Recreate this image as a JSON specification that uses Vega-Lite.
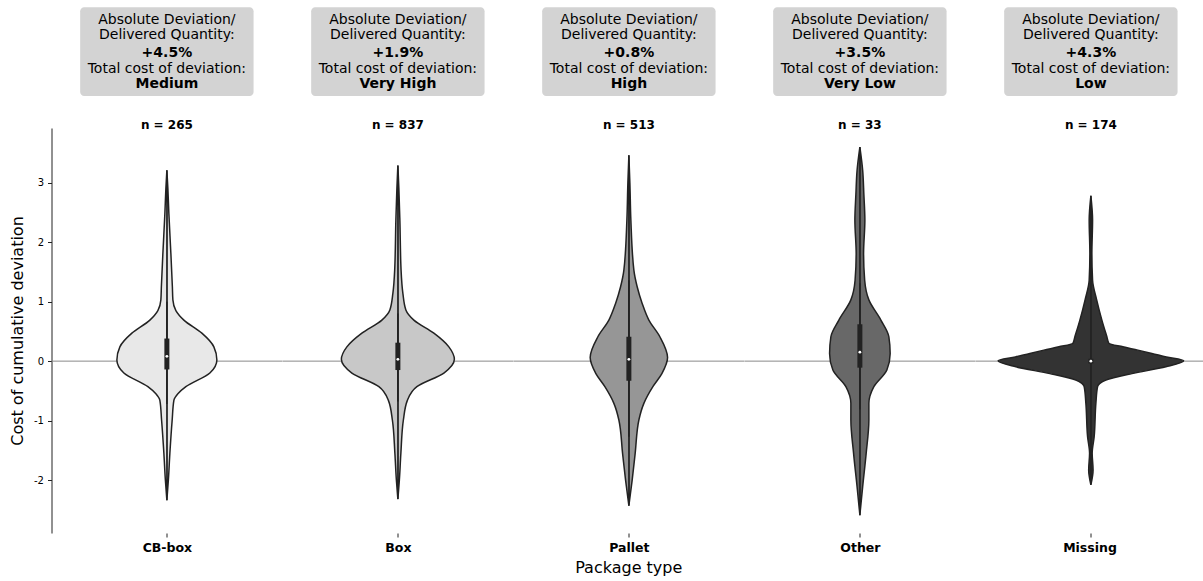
{
  "$schema": "https://vega.github.io/schema/vega-lite/v6.json",
  "padding": {"left": 9.5, "top": 7, "right": 0, "bottom": 0},
  "bounds": "flush",
  "spacing": 0,
  "config": {"font": "DejaVu Sans", "view": {"stroke": null}, "axis": {"grid": false}},
  "title": {"text": "Package type", "orient": "bottom", "anchor": "middle", "frame": "bounds", "dx": 22, "fontSize": 16, "fontWeight": "normal", "color": "#000000", "offset": 6},
  "data": {"values": [
    {"k":"s","cat":"CB-box","lo":-0.72,"q1":-0.14,"med":0.08,"q3":0.38,"hi":1.0,"nlab":"n = 265","dev":"+4.5%","cost":"Medium"},
    {"k":"s","cat":"Box","lo":-0.68,"q1":-0.15,"med":0.03,"q3":0.31,"hi":0.8,"nlab":"n = 837","dev":"+1.9%","cost":"Very High"},
    {"k":"s","cat":"Pallet","lo":-1.27,"q1":-0.33,"med":0.03,"q3":0.41,"hi":1.36,"nlab":"n = 513","dev":"+0.8%","cost":"High"},
    {"k":"s","cat":"Other","lo":-0.81,"q1":-0.11,"med":0.15,"q3":0.62,"hi":1.31,"nlab":"n = 33","dev":"+3.5%","cost":"Very Low"},
    {"k":"s","cat":"Missing","lo":-0.05,"q1":-0.04,"med":0.0,"q3":0.04,"hi":0.05,"nlab":"n = 174","dev":"+4.3%","cost":"Low"},

    {"k":"v","cat":"CB-box","y":-2.34,"d":0},
    {"k":"v","cat":"CB-box","y":-2.0,"d":0.015},
    {"k":"v","cat":"CB-box","y":-1.55,"d":0.03},
    {"k":"v","cat":"CB-box","y":-0.99,"d":0.053},
    {"k":"v","cat":"CB-box","y":-0.66,"d":0.07},
    {"k":"v","cat":"CB-box","y":-0.55,"d":0.11},
    {"k":"v","cat":"CB-box","y":-0.43,"d":0.19},
    {"k":"v","cat":"CB-box","y":-0.2,"d":0.43},
    {"k":"v","cat":"CB-box","y":0.02,"d":0.5},
    {"k":"v","cat":"CB-box","y":0.24,"d":0.47},
    {"k":"v","cat":"CB-box","y":0.47,"d":0.35},
    {"k":"v","cat":"CB-box","y":0.69,"d":0.17},
    {"k":"v","cat":"CB-box","y":0.85,"d":0.09},
    {"k":"v","cat":"CB-box","y":1.03,"d":0.06},
    {"k":"v","cat":"CB-box","y":1.25,"d":0.055},
    {"k":"v","cat":"CB-box","y":1.81,"d":0.04},
    {"k":"v","cat":"CB-box","y":2.48,"d":0.02},
    {"k":"v","cat":"CB-box","y":2.9,"d":0.01},
    {"k":"v","cat":"CB-box","y":3.21,"d":0},

    {"k":"v","cat":"Box","y":-2.32,"d":0},
    {"k":"v","cat":"Box","y":-2.0,"d":0.015},
    {"k":"v","cat":"Box","y":-1.55,"d":0.03},
    {"k":"v","cat":"Box","y":-0.99,"d":0.055},
    {"k":"v","cat":"Box","y":-0.66,"d":0.095},
    {"k":"v","cat":"Box","y":-0.43,"d":0.19},
    {"k":"v","cat":"Box","y":-0.2,"d":0.46},
    {"k":"v","cat":"Box","y":0.03,"d":0.565},
    {"k":"v","cat":"Box","y":0.24,"d":0.51},
    {"k":"v","cat":"Box","y":0.47,"d":0.36},
    {"k":"v","cat":"Box","y":0.69,"d":0.16},
    {"k":"v","cat":"Box","y":0.86,"d":0.08},
    {"k":"v","cat":"Box","y":1.14,"d":0.05},
    {"k":"v","cat":"Box","y":1.53,"d":0.032},
    {"k":"v","cat":"Box","y":2.37,"d":0.02},
    {"k":"v","cat":"Box","y":2.9,"d":0.01},
    {"k":"v","cat":"Box","y":3.29,"d":0},

    {"k":"v","cat":"Pallet","y":-2.43,"d":0},
    {"k":"v","cat":"Pallet","y":-2.0,"d":0.033},
    {"k":"v","cat":"Pallet","y":-1.55,"d":0.063},
    {"k":"v","cat":"Pallet","y":-0.99,"d":0.1},
    {"k":"v","cat":"Pallet","y":-0.71,"d":0.15},
    {"k":"v","cat":"Pallet","y":-0.43,"d":0.24},
    {"k":"v","cat":"Pallet","y":-0.21,"d":0.33},
    {"k":"v","cat":"Pallet","y":0.06,"d":0.387},
    {"k":"v","cat":"Pallet","y":0.41,"d":0.31},
    {"k":"v","cat":"Pallet","y":0.69,"d":0.2},
    {"k":"v","cat":"Pallet","y":0.97,"d":0.133},
    {"k":"v","cat":"Pallet","y":1.25,"d":0.083},
    {"k":"v","cat":"Pallet","y":1.53,"d":0.05},
    {"k":"v","cat":"Pallet","y":2.37,"d":0.02},
    {"k":"v","cat":"Pallet","y":3.0,"d":0.01},
    {"k":"v","cat":"Pallet","y":3.46,"d":0},

    {"k":"v","cat":"Other","y":-2.59,"d":0},
    {"k":"v","cat":"Other","y":-2.11,"d":0.028},
    {"k":"v","cat":"Other","y":-1.55,"d":0.063},
    {"k":"v","cat":"Other","y":-0.99,"d":0.09},
    {"k":"v","cat":"Other","y":-0.71,"d":0.09},
    {"k":"v","cat":"Other","y":-0.43,"d":0.14},
    {"k":"v","cat":"Other","y":-0.15,"d":0.27},
    {"k":"v","cat":"Other","y":0.13,"d":0.303},
    {"k":"v","cat":"Other","y":0.41,"d":0.29},
    {"k":"v","cat":"Other","y":0.69,"d":0.21},
    {"k":"v","cat":"Other","y":1.03,"d":0.09},
    {"k":"v","cat":"Other","y":1.36,"d":0.048},
    {"k":"v","cat":"Other","y":1.81,"d":0.037},
    {"k":"v","cat":"Other","y":2.37,"d":0.05},
    {"k":"v","cat":"Other","y":2.8,"d":0.04},
    {"k":"v","cat":"Other","y":3.21,"d":0.028},
    {"k":"v","cat":"Other","y":3.6,"d":0},

    {"k":"v","cat":"Missing","y":-2.08,"d":0},
    {"k":"v","cat":"Missing","y":-1.83,"d":0.022},
    {"k":"v","cat":"Missing","y":-1.55,"d":0.013},
    {"k":"v","cat":"Missing","y":-1.27,"d":0.033},
    {"k":"v","cat":"Missing","y":-0.71,"d":0.05},
    {"k":"v","cat":"Missing","y":-0.43,"d":0.067},
    {"k":"v","cat":"Missing","y":-0.375,"d":0.09},
    {"k":"v","cat":"Missing","y":-0.32,"d":0.15},
    {"k":"v","cat":"Missing","y":-0.21,"d":0.41},
    {"k":"v","cat":"Missing","y":-0.096,"d":0.75},
    {"k":"v","cat":"Missing","y":0.005,"d":0.928},
    {"k":"v","cat":"Missing","y":0.07,"d":0.755},
    {"k":"v","cat":"Missing","y":0.13,"d":0.61},
    {"k":"v","cat":"Missing","y":0.185,"d":0.47},
    {"k":"v","cat":"Missing","y":0.24,"d":0.32},
    {"k":"v","cat":"Missing","y":0.3,"d":0.18},
    {"k":"v","cat":"Missing","y":0.41,"d":0.16},
    {"k":"v","cat":"Missing","y":0.69,"d":0.11},
    {"k":"v","cat":"Missing","y":1.03,"d":0.058},
    {"k":"v","cat":"Missing","y":1.36,"d":0.017},
    {"k":"v","cat":"Missing","y":1.81,"d":0.01},
    {"k":"v","cat":"Missing","y":2.37,"d":0.017},
    {"k":"v","cat":"Missing","y":2.78,"d":0}
  ]},
  "hconcat": [
    {
      "width": 230.75, "height": 405,
      "transform": [{"filter": "datum.cat == 'CB-box'"}],
      "resolve": {"scale": {"x": "independent"}},
      "layer": [
        {"transform": [{"filter": "datum.k == 's'"}], "mark": {"type": "rule", "color": "#8a8a8a", "strokeWidth": 1}, "encoding": {"y": {"datum": 0, "type": "quantitative", "scale": {"domain": [-2.89, 3.92], "nice": false, "zero": false}}}},
        {"transform": [{"filter": "datum.k == 'v'"}], "mark": {"type": "area", "orient": "horizontal", "interpolate": "monotone", "stroke": "#222222", "strokeWidth": 1.5},
         "encoding": {
           "y": {"field": "y", "type": "quantitative", "scale": {"domain": [-2.89, 3.92], "nice": false, "zero": false},
                 "axis": {"values": [-2, -1, 0, 1, 2, 3], "labelExpr": "'' + datum.value", "title": "Cost of cumulative deviation", "titleFontSize": 16, "titleFontWeight": "normal", "titleColor": "#000000", "titlePadding": 8, "labelFontSize": 10, "labelColor": "#000000", "labelPadding": 4, "tickSize": 4, "tickColor": "#222222", "domainColor": "#222222", "grid": false}},
           "x": {"field": "d", "type": "quantitative", "scale": {"domain": [-1.15375, 1.15375], "nice": false, "zero": false},
                 "axis": {"values": [0], "labels": false, "domain": false, "ticks": true, "tickSize": 4, "tickColor": "#222222", "grid": false, "title": "CB-box", "titleFontSize": 12.5, "titleFontWeight": "bold", "titleColor": "#000000", "titlePadding": 4}},
           "color": {"field": "cat", "type": "nominal", "scale": {"domain": ["CB-box", "Box", "Pallet", "Other", "Missing"], "range": ["#e8e8e8", "#c8c8c8", "#969696", "#686868", "#333333"]}, "legend": null}}},
        {"transform": [{"filter": "datum.k == 'v'"}], "mark": {"type": "area", "orient": "horizontal", "interpolate": "monotone", "stroke": "#222222", "strokeWidth": 1.5},
         "encoding": {"y": {"field": "y", "type": "quantitative"}, "x": {"field": "d", "type": "quantitative", "scale": {"domain": [-1.15375, 1.15375], "nice": false, "zero": false, "reverse": true}, "axis": null}, "color": {"field": "cat", "type": "nominal", "legend": null}}},
        {"transform": [{"filter": "datum.k == 's'"}], "mark": {"type": "rule", "color": "#222222", "strokeWidth": 1.6}, "encoding": {"x": {"datum": 0, "type": "quantitative", "scale": {"domain": [-1.15375, 1.15375], "nice": false}, "axis": null}, "y": {"field": "lo", "type": "quantitative"}, "y2": {"field": "hi"}}},
        {"transform": [{"filter": "datum.k == 's'"}], "mark": {"type": "rule", "color": "#222222", "strokeWidth": 5, "strokeCap": "butt"}, "encoding": {"x": {"datum": 0, "type": "quantitative", "scale": {"domain": [-1.15375, 1.15375], "nice": false}, "axis": null}, "y": {"field": "q1", "type": "quantitative"}, "y2": {"field": "q3"}}},
        {"transform": [{"filter": "datum.k == 's'"}], "mark": {"type": "point", "shape": "circle", "filled": true, "color": "#ffffff", "size": 8, "opacity": 1}, "encoding": {"x": {"datum": 0, "type": "quantitative", "scale": {"domain": [-1.15375, 1.15375], "nice": false}, "axis": null}, "y": {"field": "med", "type": "quantitative"}}},
        {"transform": [{"filter": "datum.k == 's'"}], "mark": {"type": "rect", "fill": "#d3d3d3", "cornerRadius": 4}, "encoding": {"x": {"datum": -0.867, "type": "quantitative", "scale": {"domain": [-1.15375, 1.15375], "nice": false}, "axis": null}, "x2": {"datum": 0.867}, "y": {"datum": 5.95, "type": "quantitative"}, "y2": {"datum": 4.457}}},
        {"transform": [{"filter": "datum.k == 's'"}], "mark": {"type": "text", "fontSize": 14, "color": "#000000"}, "encoding": {"x": {"datum": 0, "type": "quantitative", "scale": {"domain": [-1.15375, 1.15375], "nice": false}, "axis": null}, "y": {"datum": 5.735, "type": "quantitative"}, "text": {"value": "Absolute Deviation/"}}},
        {"transform": [{"filter": "datum.k == 's'"}], "mark": {"type": "text", "fontSize": 14, "color": "#000000"}, "encoding": {"x": {"datum": 0, "type": "quantitative", "scale": {"domain": [-1.15375, 1.15375], "nice": false}, "axis": null}, "y": {"datum": 5.49, "type": "quantitative"}, "text": {"value": "Delivered Quantity:"}}},
        {"transform": [{"filter": "datum.k == 's'"}], "mark": {"type": "text", "fontSize": 14, "fontWeight": "bold", "color": "#000000"}, "encoding": {"x": {"datum": 0, "type": "quantitative", "scale": {"domain": [-1.15375, 1.15375], "nice": false}, "axis": null}, "y": {"datum": 5.18, "type": "quantitative"}, "text": {"field": "dev"}}},
        {"transform": [{"filter": "datum.k == 's'"}], "mark": {"type": "text", "fontSize": 14, "color": "#000000"}, "encoding": {"x": {"datum": 0, "type": "quantitative", "scale": {"domain": [-1.15375, 1.15375], "nice": false}, "axis": null}, "y": {"datum": 4.91, "type": "quantitative"}, "text": {"value": "Total cost of deviation:"}}},
        {"transform": [{"filter": "datum.k == 's'"}], "mark": {"type": "text", "fontSize": 14, "fontWeight": "bold", "color": "#000000"}, "encoding": {"x": {"datum": 0, "type": "quantitative", "scale": {"domain": [-1.15375, 1.15375], "nice": false}, "axis": null}, "y": {"datum": 4.665, "type": "quantitative"}, "text": {"field": "cost"}}},
        {"transform": [{"filter": "datum.k == 's'"}], "mark": {"type": "text", "fontSize": 12, "fontWeight": "bold", "color": "#000000"}, "encoding": {"x": {"datum": 0, "type": "quantitative", "scale": {"domain": [-1.15375, 1.15375], "nice": false}, "axis": null}, "y": {"datum": 3.97, "type": "quantitative"}, "text": {"field": "nlab"}}}
      ]
    },
    {
      "width": 230.75, "height": 405,
      "transform": [{"filter": "datum.cat == 'Box'"}],
      "resolve": {"scale": {"x": "independent"}},
      "layer": [
        {"transform": [{"filter": "datum.k == 's'"}], "mark": {"type": "rule", "color": "#8a8a8a", "strokeWidth": 1}, "encoding": {"y": {"datum": 0, "type": "quantitative", "scale": {"domain": [-2.89, 3.92], "nice": false, "zero": false}, "axis": null}}},
        {"transform": [{"filter": "datum.k == 'v'"}], "mark": {"type": "area", "orient": "horizontal", "interpolate": "monotone", "stroke": "#222222", "strokeWidth": 1.5},
         "encoding": {
           "y": {"field": "y", "type": "quantitative", "scale": {"domain": [-2.89, 3.92], "nice": false, "zero": false}, "axis": null},
           "x": {"field": "d", "type": "quantitative", "scale": {"domain": [-1.15375, 1.15375], "nice": false, "zero": false},
                 "axis": {"values": [0], "labels": false, "domain": false, "ticks": true, "tickSize": 4, "tickColor": "#222222", "grid": false, "title": "Box", "titleFontSize": 12.5, "titleFontWeight": "bold", "titleColor": "#000000", "titlePadding": 4}},
           "color": {"field": "cat", "type": "nominal", "scale": {"domain": ["CB-box", "Box", "Pallet", "Other", "Missing"], "range": ["#e8e8e8", "#c8c8c8", "#969696", "#686868", "#333333"]}, "legend": null}}},
        {"transform": [{"filter": "datum.k == 'v'"}], "mark": {"type": "area", "orient": "horizontal", "interpolate": "monotone", "stroke": "#222222", "strokeWidth": 1.5},
         "encoding": {"y": {"field": "y", "type": "quantitative", "axis": null}, "x": {"field": "d", "type": "quantitative", "scale": {"domain": [-1.15375, 1.15375], "nice": false, "zero": false, "reverse": true}, "axis": null}, "color": {"field": "cat", "type": "nominal", "legend": null}}},
        {"transform": [{"filter": "datum.k == 's'"}], "mark": {"type": "rule", "color": "#222222", "strokeWidth": 1.6}, "encoding": {"x": {"datum": 0, "type": "quantitative", "scale": {"domain": [-1.15375, 1.15375], "nice": false}, "axis": null}, "y": {"field": "lo", "type": "quantitative", "axis": null}, "y2": {"field": "hi"}}},
        {"transform": [{"filter": "datum.k == 's'"}], "mark": {"type": "rule", "color": "#222222", "strokeWidth": 5, "strokeCap": "butt"}, "encoding": {"x": {"datum": 0, "type": "quantitative", "scale": {"domain": [-1.15375, 1.15375], "nice": false}, "axis": null}, "y": {"field": "q1", "type": "quantitative", "axis": null}, "y2": {"field": "q3"}}},
        {"transform": [{"filter": "datum.k == 's'"}], "mark": {"type": "point", "shape": "circle", "filled": true, "color": "#ffffff", "size": 8, "opacity": 1}, "encoding": {"x": {"datum": 0, "type": "quantitative", "scale": {"domain": [-1.15375, 1.15375], "nice": false}, "axis": null}, "y": {"field": "med", "type": "quantitative", "axis": null}}},
        {"transform": [{"filter": "datum.k == 's'"}], "mark": {"type": "rect", "fill": "#d3d3d3", "cornerRadius": 4}, "encoding": {"x": {"datum": -0.867, "type": "quantitative", "scale": {"domain": [-1.15375, 1.15375], "nice": false}, "axis": null}, "x2": {"datum": 0.867}, "y": {"datum": 5.95, "type": "quantitative", "axis": null}, "y2": {"datum": 4.457}}},
        {"transform": [{"filter": "datum.k == 's'"}], "mark": {"type": "text", "fontSize": 14, "color": "#000000"}, "encoding": {"x": {"datum": 0, "type": "quantitative", "scale": {"domain": [-1.15375, 1.15375], "nice": false}, "axis": null}, "y": {"datum": 5.735, "type": "quantitative", "axis": null}, "text": {"value": "Absolute Deviation/"}}},
        {"transform": [{"filter": "datum.k == 's'"}], "mark": {"type": "text", "fontSize": 14, "color": "#000000"}, "encoding": {"x": {"datum": 0, "type": "quantitative", "scale": {"domain": [-1.15375, 1.15375], "nice": false}, "axis": null}, "y": {"datum": 5.49, "type": "quantitative", "axis": null}, "text": {"value": "Delivered Quantity:"}}},
        {"transform": [{"filter": "datum.k == 's'"}], "mark": {"type": "text", "fontSize": 14, "fontWeight": "bold", "color": "#000000"}, "encoding": {"x": {"datum": 0, "type": "quantitative", "scale": {"domain": [-1.15375, 1.15375], "nice": false}, "axis": null}, "y": {"datum": 5.18, "type": "quantitative", "axis": null}, "text": {"field": "dev"}}},
        {"transform": [{"filter": "datum.k == 's'"}], "mark": {"type": "text", "fontSize": 14, "color": "#000000"}, "encoding": {"x": {"datum": 0, "type": "quantitative", "scale": {"domain": [-1.15375, 1.15375], "nice": false}, "axis": null}, "y": {"datum": 4.91, "type": "quantitative", "axis": null}, "text": {"value": "Total cost of deviation:"}}},
        {"transform": [{"filter": "datum.k == 's'"}], "mark": {"type": "text", "fontSize": 14, "fontWeight": "bold", "color": "#000000"}, "encoding": {"x": {"datum": 0, "type": "quantitative", "scale": {"domain": [-1.15375, 1.15375], "nice": false}, "axis": null}, "y": {"datum": 4.665, "type": "quantitative", "axis": null}, "text": {"field": "cost"}}},
        {"transform": [{"filter": "datum.k == 's'"}], "mark": {"type": "text", "fontSize": 12, "fontWeight": "bold", "color": "#000000"}, "encoding": {"x": {"datum": 0, "type": "quantitative", "scale": {"domain": [-1.15375, 1.15375], "nice": false}, "axis": null}, "y": {"datum": 3.97, "type": "quantitative", "axis": null}, "text": {"field": "nlab"}}}
      ]
    },
    {
      "width": 230.75, "height": 405,
      "transform": [{"filter": "datum.cat == 'Pallet'"}],
      "resolve": {"scale": {"x": "independent"}},
      "layer": [
        {"transform": [{"filter": "datum.k == 's'"}], "mark": {"type": "rule", "color": "#8a8a8a", "strokeWidth": 1}, "encoding": {"y": {"datum": 0, "type": "quantitative", "scale": {"domain": [-2.89, 3.92], "nice": false, "zero": false}, "axis": null}}},
        {"transform": [{"filter": "datum.k == 'v'"}], "mark": {"type": "area", "orient": "horizontal", "interpolate": "monotone", "stroke": "#222222", "strokeWidth": 1.5},
         "encoding": {
           "y": {"field": "y", "type": "quantitative", "scale": {"domain": [-2.89, 3.92], "nice": false, "zero": false}, "axis": null},
           "x": {"field": "d", "type": "quantitative", "scale": {"domain": [-1.15375, 1.15375], "nice": false, "zero": false},
                 "axis": {"values": [0], "labels": false, "domain": false, "ticks": true, "tickSize": 4, "tickColor": "#222222", "grid": false, "title": "Pallet", "titleFontSize": 12.5, "titleFontWeight": "bold", "titleColor": "#000000", "titlePadding": 4}},
           "color": {"field": "cat", "type": "nominal", "scale": {"domain": ["CB-box", "Box", "Pallet", "Other", "Missing"], "range": ["#e8e8e8", "#c8c8c8", "#969696", "#686868", "#333333"]}, "legend": null}}},
        {"transform": [{"filter": "datum.k == 'v'"}], "mark": {"type": "area", "orient": "horizontal", "interpolate": "monotone", "stroke": "#222222", "strokeWidth": 1.5},
         "encoding": {"y": {"field": "y", "type": "quantitative", "axis": null}, "x": {"field": "d", "type": "quantitative", "scale": {"domain": [-1.15375, 1.15375], "nice": false, "zero": false, "reverse": true}, "axis": null}, "color": {"field": "cat", "type": "nominal", "legend": null}}},
        {"transform": [{"filter": "datum.k == 's'"}], "mark": {"type": "rule", "color": "#222222", "strokeWidth": 1.6}, "encoding": {"x": {"datum": 0, "type": "quantitative", "scale": {"domain": [-1.15375, 1.15375], "nice": false}, "axis": null}, "y": {"field": "lo", "type": "quantitative", "axis": null}, "y2": {"field": "hi"}}},
        {"transform": [{"filter": "datum.k == 's'"}], "mark": {"type": "rule", "color": "#222222", "strokeWidth": 5, "strokeCap": "butt"}, "encoding": {"x": {"datum": 0, "type": "quantitative", "scale": {"domain": [-1.15375, 1.15375], "nice": false}, "axis": null}, "y": {"field": "q1", "type": "quantitative", "axis": null}, "y2": {"field": "q3"}}},
        {"transform": [{"filter": "datum.k == 's'"}], "mark": {"type": "point", "shape": "circle", "filled": true, "color": "#ffffff", "size": 8, "opacity": 1}, "encoding": {"x": {"datum": 0, "type": "quantitative", "scale": {"domain": [-1.15375, 1.15375], "nice": false}, "axis": null}, "y": {"field": "med", "type": "quantitative", "axis": null}}},
        {"transform": [{"filter": "datum.k == 's'"}], "mark": {"type": "rect", "fill": "#d3d3d3", "cornerRadius": 4}, "encoding": {"x": {"datum": -0.867, "type": "quantitative", "scale": {"domain": [-1.15375, 1.15375], "nice": false}, "axis": null}, "x2": {"datum": 0.867}, "y": {"datum": 5.95, "type": "quantitative", "axis": null}, "y2": {"datum": 4.457}}},
        {"transform": [{"filter": "datum.k == 's'"}], "mark": {"type": "text", "fontSize": 14, "color": "#000000"}, "encoding": {"x": {"datum": 0, "type": "quantitative", "scale": {"domain": [-1.15375, 1.15375], "nice": false}, "axis": null}, "y": {"datum": 5.735, "type": "quantitative", "axis": null}, "text": {"value": "Absolute Deviation/"}}},
        {"transform": [{"filter": "datum.k == 's'"}], "mark": {"type": "text", "fontSize": 14, "color": "#000000"}, "encoding": {"x": {"datum": 0, "type": "quantitative", "scale": {"domain": [-1.15375, 1.15375], "nice": false}, "axis": null}, "y": {"datum": 5.49, "type": "quantitative", "axis": null}, "text": {"value": "Delivered Quantity:"}}},
        {"transform": [{"filter": "datum.k == 's'"}], "mark": {"type": "text", "fontSize": 14, "fontWeight": "bold", "color": "#000000"}, "encoding": {"x": {"datum": 0, "type": "quantitative", "scale": {"domain": [-1.15375, 1.15375], "nice": false}, "axis": null}, "y": {"datum": 5.18, "type": "quantitative", "axis": null}, "text": {"field": "dev"}}},
        {"transform": [{"filter": "datum.k == 's'"}], "mark": {"type": "text", "fontSize": 14, "color": "#000000"}, "encoding": {"x": {"datum": 0, "type": "quantitative", "scale": {"domain": [-1.15375, 1.15375], "nice": false}, "axis": null}, "y": {"datum": 4.91, "type": "quantitative", "axis": null}, "text": {"value": "Total cost of deviation:"}}},
        {"transform": [{"filter": "datum.k == 's'"}], "mark": {"type": "text", "fontSize": 14, "fontWeight": "bold", "color": "#000000"}, "encoding": {"x": {"datum": 0, "type": "quantitative", "scale": {"domain": [-1.15375, 1.15375], "nice": false}, "axis": null}, "y": {"datum": 4.665, "type": "quantitative", "axis": null}, "text": {"field": "cost"}}},
        {"transform": [{"filter": "datum.k == 's'"}], "mark": {"type": "text", "fontSize": 12, "fontWeight": "bold", "color": "#000000"}, "encoding": {"x": {"datum": 0, "type": "quantitative", "scale": {"domain": [-1.15375, 1.15375], "nice": false}, "axis": null}, "y": {"datum": 3.97, "type": "quantitative", "axis": null}, "text": {"field": "nlab"}}}
      ]
    },
    {
      "width": 230.75, "height": 405,
      "transform": [{"filter": "datum.cat == 'Other'"}],
      "resolve": {"scale": {"x": "independent"}},
      "layer": [
        {"transform": [{"filter": "datum.k == 's'"}], "mark": {"type": "rule", "color": "#8a8a8a", "strokeWidth": 1}, "encoding": {"y": {"datum": 0, "type": "quantitative", "scale": {"domain": [-2.89, 3.92], "nice": false, "zero": false}, "axis": null}}},
        {"transform": [{"filter": "datum.k == 'v'"}], "mark": {"type": "area", "orient": "horizontal", "interpolate": "monotone", "stroke": "#222222", "strokeWidth": 1.5},
         "encoding": {
           "y": {"field": "y", "type": "quantitative", "scale": {"domain": [-2.89, 3.92], "nice": false, "zero": false}, "axis": null},
           "x": {"field": "d", "type": "quantitative", "scale": {"domain": [-1.15375, 1.15375], "nice": false, "zero": false},
                 "axis": {"values": [0], "labels": false, "domain": false, "ticks": true, "tickSize": 4, "tickColor": "#222222", "grid": false, "title": "Other", "titleFontSize": 12.5, "titleFontWeight": "bold", "titleColor": "#000000", "titlePadding": 4}},
           "color": {"field": "cat", "type": "nominal", "scale": {"domain": ["CB-box", "Box", "Pallet", "Other", "Missing"], "range": ["#e8e8e8", "#c8c8c8", "#969696", "#686868", "#333333"]}, "legend": null}}},
        {"transform": [{"filter": "datum.k == 'v'"}], "mark": {"type": "area", "orient": "horizontal", "interpolate": "monotone", "stroke": "#222222", "strokeWidth": 1.5},
         "encoding": {"y": {"field": "y", "type": "quantitative", "axis": null}, "x": {"field": "d", "type": "quantitative", "scale": {"domain": [-1.15375, 1.15375], "nice": false, "zero": false, "reverse": true}, "axis": null}, "color": {"field": "cat", "type": "nominal", "legend": null}}},
        {"transform": [{"filter": "datum.k == 's'"}], "mark": {"type": "rule", "color": "#222222", "strokeWidth": 1.6}, "encoding": {"x": {"datum": 0, "type": "quantitative", "scale": {"domain": [-1.15375, 1.15375], "nice": false}, "axis": null}, "y": {"field": "lo", "type": "quantitative", "axis": null}, "y2": {"field": "hi"}}},
        {"transform": [{"filter": "datum.k == 's'"}], "mark": {"type": "rule", "color": "#222222", "strokeWidth": 5, "strokeCap": "butt"}, "encoding": {"x": {"datum": 0, "type": "quantitative", "scale": {"domain": [-1.15375, 1.15375], "nice": false}, "axis": null}, "y": {"field": "q1", "type": "quantitative", "axis": null}, "y2": {"field": "q3"}}},
        {"transform": [{"filter": "datum.k == 's'"}], "mark": {"type": "point", "shape": "circle", "filled": true, "color": "#ffffff", "size": 8, "opacity": 1}, "encoding": {"x": {"datum": 0, "type": "quantitative", "scale": {"domain": [-1.15375, 1.15375], "nice": false}, "axis": null}, "y": {"field": "med", "type": "quantitative", "axis": null}}},
        {"transform": [{"filter": "datum.k == 's'"}], "mark": {"type": "rect", "fill": "#d3d3d3", "cornerRadius": 4}, "encoding": {"x": {"datum": -0.867, "type": "quantitative", "scale": {"domain": [-1.15375, 1.15375], "nice": false}, "axis": null}, "x2": {"datum": 0.867}, "y": {"datum": 5.95, "type": "quantitative", "axis": null}, "y2": {"datum": 4.457}}},
        {"transform": [{"filter": "datum.k == 's'"}], "mark": {"type": "text", "fontSize": 14, "color": "#000000"}, "encoding": {"x": {"datum": 0, "type": "quantitative", "scale": {"domain": [-1.15375, 1.15375], "nice": false}, "axis": null}, "y": {"datum": 5.735, "type": "quantitative", "axis": null}, "text": {"value": "Absolute Deviation/"}}},
        {"transform": [{"filter": "datum.k == 's'"}], "mark": {"type": "text", "fontSize": 14, "color": "#000000"}, "encoding": {"x": {"datum": 0, "type": "quantitative", "scale": {"domain": [-1.15375, 1.15375], "nice": false}, "axis": null}, "y": {"datum": 5.49, "type": "quantitative", "axis": null}, "text": {"value": "Delivered Quantity:"}}},
        {"transform": [{"filter": "datum.k == 's'"}], "mark": {"type": "text", "fontSize": 14, "fontWeight": "bold", "color": "#000000"}, "encoding": {"x": {"datum": 0, "type": "quantitative", "scale": {"domain": [-1.15375, 1.15375], "nice": false}, "axis": null}, "y": {"datum": 5.18, "type": "quantitative", "axis": null}, "text": {"field": "dev"}}},
        {"transform": [{"filter": "datum.k == 's'"}], "mark": {"type": "text", "fontSize": 14, "color": "#000000"}, "encoding": {"x": {"datum": 0, "type": "quantitative", "scale": {"domain": [-1.15375, 1.15375], "nice": false}, "axis": null}, "y": {"datum": 4.91, "type": "quantitative", "axis": null}, "text": {"value": "Total cost of deviation:"}}},
        {"transform": [{"filter": "datum.k == 's'"}], "mark": {"type": "text", "fontSize": 14, "fontWeight": "bold", "color": "#000000"}, "encoding": {"x": {"datum": 0, "type": "quantitative", "scale": {"domain": [-1.15375, 1.15375], "nice": false}, "axis": null}, "y": {"datum": 4.665, "type": "quantitative", "axis": null}, "text": {"field": "cost"}}},
        {"transform": [{"filter": "datum.k == 's'"}], "mark": {"type": "text", "fontSize": 12, "fontWeight": "bold", "color": "#000000"}, "encoding": {"x": {"datum": 0, "type": "quantitative", "scale": {"domain": [-1.15375, 1.15375], "nice": false}, "axis": null}, "y": {"datum": 3.97, "type": "quantitative", "axis": null}, "text": {"field": "nlab"}}}
      ]
    },
    {
      "width": 228, "height": 405,
      "transform": [{"filter": "datum.cat == 'Missing'"}],
      "resolve": {"scale": {"x": "independent"}},
      "layer": [
        {"transform": [{"filter": "datum.k == 's'"}], "mark": {"type": "rule", "color": "#8a8a8a", "strokeWidth": 1}, "encoding": {"y": {"datum": 0, "type": "quantitative", "scale": {"domain": [-2.89, 3.92], "nice": false, "zero": false}, "axis": null}}},
        {"transform": [{"filter": "datum.k == 'v'"}], "mark": {"type": "area", "orient": "horizontal", "interpolate": "monotone", "stroke": "#222222", "strokeWidth": 1.5},
         "encoding": {
           "y": {"field": "y", "type": "quantitative", "scale": {"domain": [-2.89, 3.92], "nice": false, "zero": false}, "axis": null},
           "x": {"field": "d", "type": "quantitative", "scale": {"domain": [-1.15375, 1.12625], "nice": false, "zero": false},
                 "axis": {"values": [0], "labels": false, "domain": false, "ticks": true, "tickSize": 4, "tickColor": "#222222", "grid": false, "title": "Missing", "titleFontSize": 12.5, "titleFontWeight": "bold", "titleColor": "#000000", "titlePadding": 4}},
           "color": {"field": "cat", "type": "nominal", "scale": {"domain": ["CB-box", "Box", "Pallet", "Other", "Missing"], "range": ["#e8e8e8", "#c8c8c8", "#969696", "#686868", "#333333"]}, "legend": null}}},
        {"transform": [{"filter": "datum.k == 'v'"}], "mark": {"type": "area", "orient": "horizontal", "interpolate": "monotone", "stroke": "#222222", "strokeWidth": 1.5},
         "encoding": {"y": {"field": "y", "type": "quantitative", "axis": null}, "x": {"field": "d", "type": "quantitative", "scale": {"domain": [-1.12625, 1.15375], "nice": false, "zero": false, "reverse": true}, "axis": null}, "color": {"field": "cat", "type": "nominal", "legend": null}}},
        {"transform": [{"filter": "datum.k == 's'"}], "mark": {"type": "rule", "color": "#222222", "strokeWidth": 1.6}, "encoding": {"x": {"datum": 0, "type": "quantitative", "scale": {"domain": [-1.15375, 1.12625], "nice": false}, "axis": null}, "y": {"field": "lo", "type": "quantitative", "axis": null}, "y2": {"field": "hi"}}},
        {"transform": [{"filter": "datum.k == 's'"}], "mark": {"type": "rule", "color": "#222222", "strokeWidth": 5, "strokeCap": "butt"}, "encoding": {"x": {"datum": 0, "type": "quantitative", "scale": {"domain": [-1.15375, 1.12625], "nice": false}, "axis": null}, "y": {"field": "q1", "type": "quantitative", "axis": null}, "y2": {"field": "q3"}}},
        {"transform": [{"filter": "datum.k == 's'"}], "mark": {"type": "point", "shape": "circle", "filled": true, "color": "#ffffff", "size": 8, "opacity": 1}, "encoding": {"x": {"datum": 0, "type": "quantitative", "scale": {"domain": [-1.15375, 1.12625], "nice": false}, "axis": null}, "y": {"field": "med", "type": "quantitative", "axis": null}}},
        {"transform": [{"filter": "datum.k == 's'"}], "mark": {"type": "rect", "fill": "#d3d3d3", "cornerRadius": 4}, "encoding": {"x": {"datum": -0.867, "type": "quantitative", "scale": {"domain": [-1.15375, 1.12625], "nice": false}, "axis": null}, "x2": {"datum": 0.867}, "y": {"datum": 5.95, "type": "quantitative", "axis": null}, "y2": {"datum": 4.457}}},
        {"transform": [{"filter": "datum.k == 's'"}], "mark": {"type": "text", "fontSize": 14, "color": "#000000"}, "encoding": {"x": {"datum": 0, "type": "quantitative", "scale": {"domain": [-1.15375, 1.12625], "nice": false}, "axis": null}, "y": {"datum": 5.735, "type": "quantitative", "axis": null}, "text": {"value": "Absolute Deviation/"}}},
        {"transform": [{"filter": "datum.k == 's'"}], "mark": {"type": "text", "fontSize": 14, "color": "#000000"}, "encoding": {"x": {"datum": 0, "type": "quantitative", "scale": {"domain": [-1.15375, 1.12625], "nice": false}, "axis": null}, "y": {"datum": 5.49, "type": "quantitative", "axis": null}, "text": {"value": "Delivered Quantity:"}}},
        {"transform": [{"filter": "datum.k == 's'"}], "mark": {"type": "text", "fontSize": 14, "fontWeight": "bold", "color": "#000000"}, "encoding": {"x": {"datum": 0, "type": "quantitative", "scale": {"domain": [-1.15375, 1.12625], "nice": false}, "axis": null}, "y": {"datum": 5.18, "type": "quantitative", "axis": null}, "text": {"field": "dev"}}},
        {"transform": [{"filter": "datum.k == 's'"}], "mark": {"type": "text", "fontSize": 14, "color": "#000000"}, "encoding": {"x": {"datum": 0, "type": "quantitative", "scale": {"domain": [-1.15375, 1.12625], "nice": false}, "axis": null}, "y": {"datum": 4.91, "type": "quantitative", "axis": null}, "text": {"value": "Total cost of deviation:"}}},
        {"transform": [{"filter": "datum.k == 's'"}], "mark": {"type": "text", "fontSize": 14, "fontWeight": "bold", "color": "#000000"}, "encoding": {"x": {"datum": 0, "type": "quantitative", "scale": {"domain": [-1.15375, 1.12625], "nice": false}, "axis": null}, "y": {"datum": 4.665, "type": "quantitative", "axis": null}, "text": {"field": "cost"}}},
        {"transform": [{"filter": "datum.k == 's'"}], "mark": {"type": "text", "fontSize": 12, "fontWeight": "bold", "color": "#000000"}, "encoding": {"x": {"datum": 0, "type": "quantitative", "scale": {"domain": [-1.15375, 1.12625], "nice": false}, "axis": null}, "y": {"datum": 3.97, "type": "quantitative", "axis": null}, "text": {"field": "nlab"}}}
      ]
    }
  ]
}
